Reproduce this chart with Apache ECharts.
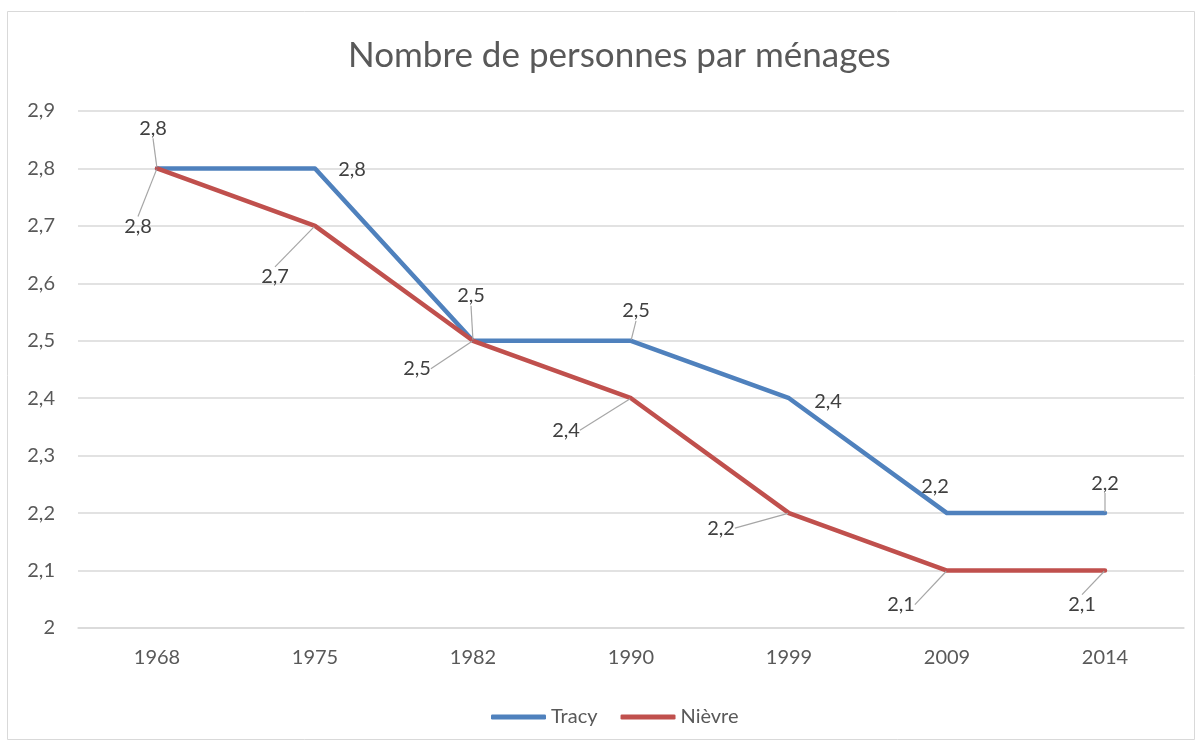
<!DOCTYPE html>
<html>
<head>
<meta charset="utf-8">
<script src="https://cdn.jsdelivr.net/npm/echarts@6/dist/echarts.min.js"></script>
<style>
  html, body { margin: 0; padding: 0; background: #fff; }
  #chart { width: 1201px; height: 744px; }
</style>
</head>
<body>
<div id="chart"></div>
<script>
// Données
const years = ['1968', '1975', '1982', '1990', '1999', '2009', '2014'];
const tracy = [2.8, 2.8, 2.5, 2.5, 2.4, 2.2, 2.2];
const nievre = [2.8, 2.7, 2.5, 2.4, 2.2, 2.1, 2.1];

// Décalages des étiquettes (style Excel avec lignes de repère)
const tracyOffsets = [[-4, -40], [37, 1], [-2, -45], [5, -30], [39, 3], [-12, -27], [0, -30]];
const nievreOffsets = [[-19, 58], [-40, 51], [-56, 28], [-65, 32], [-68, 15], [-46, 34], [-23, 34]];
// étiquettes sans ligne de repère
const tracyNoLine = [1, 4, 5];
const nievreNoLine = [];

const fmt = v => String(v).replace('.', ',');
const font = 'Lato, "Open Sans", sans-serif';

const chart = echarts.init(document.getElementById('chart'));

const makeSeries = (name, values, color, offsets, noLine) => ({
    name,
    type: 'line',
    data: values.map((v, i) => noLine.includes(i)
        ? { value: v, labelLine: { show: false } }
        : v),
    symbol: 'circle',
    symbolSize: 2,
    showSymbol: true,
    itemStyle: { color },
    lineStyle: { color, width: 4.5, cap: 'round', join: 'round' },
    label: {
        show: true,
        position: 'inside',
        formatter: p => fmt(p.value),
        color: '#404040',
        fontSize: 20,
        fontFamily: font
    },
    labelLine: {
        show: true,
        lineStyle: { color: '#a6a6a6', width: 1.2 }
    },
    labelLayout: params => ({
        dx: offsets[params.dataIndex][0],
        dy: offsets[params.dataIndex][1]
    }),
    emphasis: { disabled: true },
    animation: false
});

const option = {
    backgroundColor: '#fff',
    title: {
        text: 'Nombre de personnes par ménages',
        left: 343,
        top: 33,
        textStyle: { color: '#595959', fontSize: 35, fontWeight: 'normal', fontFamily: font }
    },
    legend: {
        top: 702,
        left: 486,
        icon: 'roundRect',
        itemWidth: 55,
        itemHeight: 5,
        itemGap: 23,
        textStyle: { color: '#595959', fontSize: 20, fontFamily: font },
        data: ['Tracy', 'Nièvre']
    },
    grid: {
        left: 78,
        right: 17,
        top: 111,
        height: 517,
        containLabel: false
    },
    xAxis: {
        type: 'category',
        data: years,
        boundaryGap: true,
        axisTick: { show: false },
        axisLine: { lineStyle: { color: '#d9d9d9', width: 1.5 } },
        axisLabel: { color: '#595959', fontSize: 20, fontFamily: font, margin: 20 }
    },
    yAxis: {
        type: 'value',
        min: 2,
        max: 2.9,
        interval: 0.1,
        axisLine: { show: false },
        axisTick: { show: false },
        axisLabel: {
            color: '#595959',
            fontSize: 20,
            fontFamily: font,
            margin: 23,
            formatter: v => fmt(Math.round(v * 10) / 10)
        },
        splitLine: { lineStyle: { color: '#d9d9d9', width: 1.5 } }
    },
    graphic: [{
        type: 'rect',
        shape: { x: 7.5, y: 11.5, width: 1187, height: 728 },
        style: { fill: 'none', stroke: '#d9d9d9', lineWidth: 1 },
        silent: true
    }],
    series: [
        makeSeries('Tracy', tracy, '#4f81bd', tracyOffsets, tracyNoLine),
        makeSeries('Nièvre', nievre, '#c0504d', nievreOffsets, nievreNoLine)
    ]
};

chart.setOption(option);
</script>
</body>
</html>
